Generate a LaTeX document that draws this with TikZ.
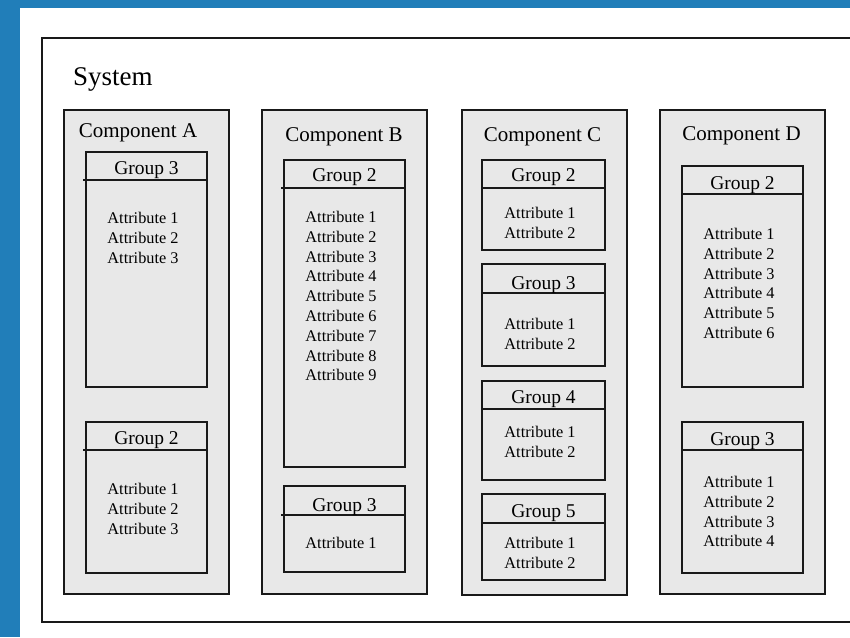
\documentclass[tikz,border=0pt]{standalone}
\usepackage{fontspec}
\setmainfont{Liberation Serif}
\usepackage{xcolor}
\definecolor{bandblue}{RGB}{33,126,185}
\definecolor{boxgray}{RGB}{232,232,232}

\begin{document}
\begin{tikzpicture}[x=1pt,y=-1pt,
	box/.style={draw=black!90,line width=1.2pt,fill=boxgray},
	grp/.style={draw=black!90,line width=1.4pt,fill=boxgray},
	hline/.style={draw=black!90,line width=1.4pt},
	ttl/.style={anchor=base,inner sep=0pt,font=\fontsize{21}{24}\selectfont},
	hdr/.style={anchor=base,inner sep=0pt,font=\fontsize{19.5}{22}\selectfont},
	att/.style={anchor=north,inner sep=0pt,align=left,
		font=\fontsize{16.3}{19.8}\selectfont}]
	\useasboundingbox (0,0) rectangle (850,637);
	\clip (0,0) rectangle (850,637);
	\fill[bandblue] (0,0) rectangle (850,637);
	\fill[white] (20,8) rectangle (850,637);

	\draw[draw=black!90,line width=1.2pt] (42,38) rectangle (870,622);
	\node[anchor=base west,inner sep=0pt,font=\fontsize{27}{30}\selectfont]
		(sys) at (73,85) {System};

%	====================================================================
	\draw[box] (64,110) rectangle (229,594);
	\node[ttl] (compA) at (138,137.3) {Component A};
	\draw[grp] (86,152) rectangle (207,387);
	\draw[hline] (83,180) -- (207,180);
	\node[hdr] (hdrA3) at (146.5,174) {Group 3};
	\node[att] (attA3) at (143,212) {Attribute 1\\Attribute 2\\Attribute 3};
	\draw[grp] (86,422) rectangle (207,573);
	\draw[hline] (83,450) -- (207,450);
	\node[hdr] (hdrA2) at (146.5,444) {Group 2};
	\node[att] (attA2) at (143,483) {Attribute 1\\Attribute 2\\Attribute 3};

%	====================================================================
	\draw[box] (262,110) rectangle (427,594);
	\node[ttl] (compB) at (344,141.5) {Component B};
	\draw[grp] (284,160) rectangle (405,467);
	\draw[hline] (281,188) -- (405,188);
	\node[hdr] (hdrB2) at (344.5,181.7) {Group 2};
	\node[att] (attB2) at (341,211) {Attribute 1\\Attribute 2\\Attribute 3\\
		Attribute 4\\Attribute 5\\Attribute 6\\Attribute 7\\Attribute 8\\Attribute 9};
	\draw[grp] (284,486) rectangle (405,572);
	\draw[hline] (281,515) -- (405,515);
	\node[hdr] (hdrB3) at (344.5,511.5) {Group 3};
	\node[att] (attB3) at (341,537) {Attribute 1};

%	====================================================================
	\draw[box] (462,110) rectangle (627,595);
	\node[ttl] (compC) at (542.5,141.5) {Component C};
	\draw[grp] (482,160) rectangle (605,250);
	\draw[hline] (482,188) -- (605,188);
	\node[hdr] (hdrC2) at (543.5,181.7) {Group 2};
	\node[att] (attC2) at (540,207) {Attribute 1\\Attribute 2};
	\draw[grp] (482,264) rectangle (605,366);
	\draw[hline] (482,293) -- (605,293);
	\node[hdr] (hdrC3) at (543.5,289) {Group 3};
	\node[att] (attC3) at (540,318) {Attribute 1\\Attribute 2};
	\draw[grp] (482,381) rectangle (605,480);
	\draw[hline] (482,409) -- (605,409);
	\node[hdr] (hdrC4) at (543.5,403) {Group 4};
	\node[att] (attC4) at (540,426) {Attribute 1\\Attribute 2};
	\draw[grp] (482,494) rectangle (605,580);
	\draw[hline] (482,523) -- (605,523);
	\node[hdr] (hdrC5) at (543.5,517) {Group 5};
	\node[att] (attC5) at (540,537) {Attribute 1\\Attribute 2};

%	====================================================================
	\draw[box] (660,110) rectangle (825,594);
	\node[ttl] (compD) at (741.5,140.7) {Component D};
	\draw[grp] (682,166) rectangle (803,387);
	\draw[hline] (682,194) -- (803,194);
	\node[hdr] (hdrD2) at (742.5,189) {Group 2};
	\node[att] (attD2) at (739,228) {Attribute 1\\Attribute 2\\Attribute 3\\
		Attribute 4\\Attribute 5\\Attribute 6};
	\draw[grp] (682,422) rectangle (803,573);
	\draw[hline] (682,450) -- (803,450);
	\node[hdr] (hdrD3) at (742.5,445) {Group 3};
	\node[att] (attD3) at (739,476) {Attribute 1\\Attribute 2\\Attribute 3\\Attribute 4};
\end{tikzpicture}
\end{document}
